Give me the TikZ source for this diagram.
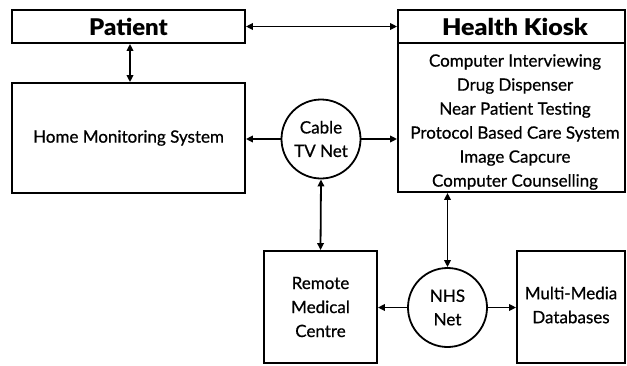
\documentclass[tikz,border=0pt]{standalone}
\usepackage{fontspec}
\setmainfont{Lato}[FakeBold=0.7]
\newfontfamily\heavyfont{Lato Black}
\usetikzlibrary{arrows.meta,calc}

\tikzset{
  box/.style={draw, line width=1.8pt, rectangle, inner sep=0pt},
  net/.style={draw, line width=1.8pt, circle, inner sep=0pt, minimum size=79pt,
              align=center, font=\fontsize{17}{23.5}\selectfont},
  label/.style={align=center, inner sep=0pt, font=\fontsize{17}{24}\selectfont},
  heading/.style={inner sep=0pt, font=\fontsize{23}{24}\heavyfont},
  link/.style={line width=1.8pt, -{Triangle[length=7pt,width=6.5pt]}},
  both/.style={line width=1.8pt, {Triangle[length=7pt,width=6.5pt]}-{Triangle[length=7pt,width=6.5pt]}}
}

\begin{document}
\begin{tikzpicture}[x=1pt, y=-1pt]
\useasboundingbox (0,0) rectangle (627,365);

% left column: patient and home monitoring
\node[box, minimum width=233pt, minimum height=33pt] (patient) at (128.5,26.5) {};
\node[heading] at ([yshift=-0.5pt]patient.center) {\scalebox{1.04}[1]{Patient}};
\node[box, minimum width=233pt, minimum height=110pt] (home) at (128.5,138) {};
\node[label] at (home) {Home Monitoring System};

% health kiosk with its services
\node[box, minimum width=227pt, minimum height=182pt] (kiosk) at (511.5,101) {};
\coordinate (sep) at (398,43);
\draw[line width=1.8pt] (sep) -- (sep -| kiosk.east);
\node[heading] (kiosktitle) at (515,27) {\scalebox{1.09}[1]{Health Kiosk}};
\node[label] (services) at (515,122) {Computer Interviewing\\Drug Dispenser\\Near Patient Testing\\Protocol Based Care System\\Image Capcure\\Computer Counselling};

% networks
\node[net] (cable) at (321,139) {Cable\\TV Net};
\node[net] (nhs) at (447.5,307.5) {NHS\\Net};

% bottom row
\node[box, minimum width=113pt, minimum height=112pt] (remote) at (320.5,307) {};
\node[label] at (remote) {Remote\\Medical\\Centre};
\node[box, minimum width=108pt, minimum height=112pt] (multi) at (571,307) {};
\node[label] at ([yshift=2pt]multi.center) {Multi-Media\\Databases};

% connections
\draw[both] (patient.east) -- (patient.east -| kiosk.west);
\draw[both] (patient.south -| 130,0) -- (home.north -| 130,0);
\draw[link] (cable.west) -- (cable.west -| home.east);
\draw[link] (cable.east) -- (cable.east -| kiosk.west);
\draw[both] (cable.south) -- (remote.north);
\draw[both] (nhs.north |- kiosk.south) -- (nhs.north);
\draw[link] (nhs.west) -- (nhs.west -| remote.east);
\draw[link] (nhs.east) -- (nhs.east -| multi.west);
\end{tikzpicture}
\end{document}
